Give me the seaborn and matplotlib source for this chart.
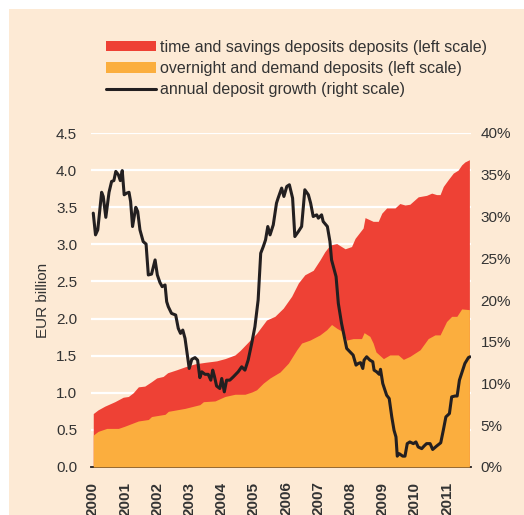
import warnings
warnings.filterwarnings("ignore")

import numpy as np
import pandas as pd
import matplotlib
matplotlib.use("Agg")
import matplotlib.pyplot as plt
from matplotlib.patches import Patch, Rectangle
from matplotlib.lines import Line2D
from matplotlib.ticker import FuncFormatter
import seaborn as sns

# total deposits (top of red area), EUR billion
total_t = [2000.01, 2000.16, 2000.37, 2000.68, 2000.94, 2001.10, 2001.25, 2001.41, 2001.61, 2001.82,
           2001.98, 2002.18, 2002.32, 2002.60, 2002.86, 2003.17, 2003.48, 2003.84, 2004.10, 2004.41,
           2004.57, 2004.88, 2005.08, 2005.39, 2005.65, 2005.91, 2006.17, 2006.38, 2006.58, 2006.84,
           2007.05, 2007.20, 2007.36, 2007.57, 2007.83, 2008.03, 2008.14, 2008.39, 2008.45, 2008.70,
           2008.86, 2008.97, 2009.12, 2009.38, 2009.53, 2009.69, 2009.84, 2010.10, 2010.36, 2010.52,
           2010.67, 2010.78, 2010.88, 2011.03, 2011.19, 2011.34, 2011.45, 2011.55, 2011.69]
total_v = [0.72, 0.77, 0.82, 0.88, 0.94, 0.95, 1.00, 1.08, 1.09, 1.15,
           1.20, 1.22, 1.27, 1.31, 1.35, 1.39, 1.41, 1.43, 1.46, 1.51,
           1.57, 1.71, 1.80, 1.98, 2.03, 2.14, 2.30, 2.48, 2.59, 2.65,
           2.79, 2.90, 2.99, 3.01, 2.94, 2.97, 3.08, 3.22, 3.36, 3.31,
           3.31, 3.42, 3.49, 3.49, 3.55, 3.53, 3.54, 3.64, 3.66, 3.69,
           3.67, 3.67, 3.78, 3.87, 3.96, 4.00, 4.07, 4.11, 4.14]

# overnight and demand deposits (top of orange area), EUR billion
overnight_t = [2000.01, 2000.16, 2000.43, 2000.79, 2000.99, 2001.41, 2001.72, 2001.82, 2002.24, 2002.34,
               2002.86, 2003.32, 2003.43, 2003.79, 2004.10, 2004.41, 2004.72, 2004.93, 2005.08, 2005.29,
               2005.50, 2005.81, 2006.07, 2006.33, 2006.48, 2006.74, 2007.05, 2007.26, 2007.41, 2007.57,
               2007.77, 2007.88, 2008.08, 2008.34, 2008.42, 2008.60, 2008.70, 2008.79, 2009.02, 2009.22,
               2009.48, 2009.64, 2009.84, 2010.16, 2010.41, 2010.62, 2010.78, 2010.98, 2011.14, 2011.30,
               2011.45, 2011.69]
overnight_v = [0.43, 0.48, 0.52, 0.52, 0.55, 0.62, 0.64, 0.68, 0.71, 0.75,
               0.79, 0.84, 0.88, 0.89, 0.95, 0.98, 0.98, 1.01, 1.04, 1.13,
               1.20, 1.28, 1.40, 1.58, 1.67, 1.71, 1.78, 1.85, 1.92, 1.87,
               1.82, 1.71, 1.73, 1.73, 1.81, 1.76, 1.67, 1.55, 1.46, 1.51,
               1.51, 1.45, 1.49, 1.58, 1.73, 1.78, 1.78, 1.96, 2.03, 2.03,
               2.13, 2.12]

# annual deposit growth, %
growth_t = [2000.01, 2000.08, 2000.15, 2000.27, 2000.32, 2000.40, 2000.50, 2000.58, 2000.65, 2000.71,
            2000.79, 2000.85, 2000.91, 2000.97, 2001.05, 2001.12, 2001.17, 2001.23, 2001.33, 2001.39,
            2001.46, 2001.56, 2001.65, 2001.72, 2001.82, 2001.93, 2002.00, 2002.08, 2002.15, 2002.24,
            2002.29, 2002.34, 2002.44, 2002.57, 2002.65, 2002.72, 2002.79, 2002.86, 2002.91, 2002.99,
            2003.07, 2003.17, 2003.25, 2003.32, 2003.38, 2003.48, 2003.58, 2003.66, 2003.72, 2003.77,
            2003.84, 2003.94, 2004.00, 2004.08, 2004.15, 2004.25, 2004.36, 2004.46, 2004.51, 2004.62,
            2004.72, 2004.82, 2004.93, 2005.03, 2005.13, 2005.21, 2005.29, 2005.36, 2005.43, 2005.50,
            2005.60, 2005.70, 2005.75, 2005.86, 2005.93, 2006.02, 2006.10, 2006.20, 2006.27, 2006.38,
            2006.48, 2006.58, 2006.69, 2006.76, 2006.84, 2006.95, 2007.00, 2007.10, 2007.15, 2007.28,
            2007.36, 2007.41, 2007.55, 2007.62, 2007.72, 2007.88, 2007.98, 2008.08, 2008.17, 2008.24,
            2008.31, 2008.38, 2008.42, 2008.50, 2008.60, 2008.69, 2008.73, 2008.81, 2008.89, 2008.93,
            2009.00, 2009.12, 2009.20, 2009.28, 2009.35, 2009.41, 2009.45, 2009.51, 2009.62, 2009.69,
            2009.76, 2009.84, 2009.95, 2010.03, 2010.10, 2010.21, 2010.28, 2010.36, 2010.47, 2010.55,
            2010.67, 2010.80, 2010.88, 2010.96, 2011.07, 2011.14, 2011.24, 2011.31, 2011.38, 2011.48,
            2011.55, 2011.66, 2011.71]
growth_v = [30.4, 27.8, 28.4, 32.9, 32.4, 29.9, 32.9, 34.2, 34.3, 35.4,
            35.0, 34.3, 35.5, 32.6, 32.8, 32.9, 31.8, 28.8, 31.1, 30.6,
            28.4, 27.0, 26.7, 23.0, 23.1, 24.8, 23.0, 22.1, 21.6, 21.8,
            19.8, 19.2, 18.4, 18.2, 16.6, 16.0, 16.4, 15.4, 14.0, 11.8,
            12.9, 13.1, 12.8, 10.7, 11.4, 11.1, 11.1, 10.4, 11.6, 10.9,
            9.7, 9.4, 10.6, 9.0, 10.4, 10.4, 10.8, 11.2, 11.4, 12.0,
            11.6, 12.8, 14.8, 16.8, 20.0, 25.6, 26.4, 27.2, 28.8, 27.8,
            29.0, 31.6, 32.2, 33.4, 32.4, 33.6, 33.8, 32.2, 27.6, 28.2,
            28.8, 33.2, 32.6, 31.6, 30.0, 30.2, 29.8, 30.2, 29.4, 28.8,
            27.0, 24.8, 22.8, 19.6, 17.2, 14.2, 13.8, 13.4, 12.2, 12.4,
            12.5, 11.8, 12.8, 13.2, 12.8, 12.6, 11.6, 11.4, 11.1, 11.7,
            10.0, 8.6, 8.2, 6.0, 4.4, 3.6, 1.3, 1.6, 1.3, 1.3,
            2.8, 3.0, 2.8, 3.0, 2.4, 2.2, 2.5, 2.8, 2.8, 2.1,
            2.5, 2.9, 4.4, 6.0, 6.4, 8.4, 8.5, 8.5, 10.4, 11.6,
            12.4, 13.1, 13.2]

years = list(range(2000, 2012))
left_ticks = [0.0, 0.5, 1.0, 1.5, 2.0, 2.5, 3.0, 3.5, 4.0, 4.5]
right_ticks = [0, 5, 10, 15, 20, 25, 30, 35, 40]

labels = ["time and savings deposits deposits (left scale)",
          "overnight and demand deposits (left scale)",
          "annual deposit growth (right scale)"]

BG = "#FDEAD5"
RED = "#EE4135"
ORANGE = "#FBAE3E"
DARK = "#231F20"
TXT = "#333333"

sns.set_style("white")
plt.rcParams["font.family"] = ["Liberation Sans", "DejaVu Sans"]

fig = plt.figure(figsize=(5.24, 5.15), dpi=100)
fig.patch.set_facecolor("white")
fig.patches.append(Rectangle((9 / 524, 0), 1, 1 - 9 / 515, transform=fig.transFigure,
                             facecolor=BG, edgecolor="none", zorder=-10))

ax = fig.add_axes([91 / 524, 48 / 515, 380 / 524, 334 / 515])
ax.patch.set_alpha(0)

total = pd.DataFrame({"t": total_t, "v": total_v})
overnight = pd.DataFrame({"t": overnight_t, "v": overnight_v})
growth = pd.DataFrame({"t": growth_t, "v": growth_v})

ax.fill_between(total["t"], 0, total["v"], color=RED, linewidth=0, zorder=2)
ax.fill_between(overnight["t"], 0, overnight["v"], color=ORANGE, linewidth=0, zorder=3)

ax.set_xlim(1999.94, 2011.74)
ax.set_ylim(0, 4.5)
ax.set_yticks(left_ticks)
ax.set_yticklabels([f"{v:.1f}" for v in left_ticks])
ax.set_xticks(years)
ax.set_xticklabels([str(y) for y in years], rotation=90, fontweight="bold")
ax.grid(axis="y", color="white", linewidth=1.6, zorder=0)
ax.set_axisbelow(True)
for s in ["left", "right", "top"]:
    ax.spines[s].set_visible(False)
ax.spines["bottom"].set_color(DARK)
ax.spines["bottom"].set_linewidth(1.3)
ax.tick_params(axis="y", length=0, pad=10, labelsize=11, labelcolor=TXT)
ax.tick_params(axis="x", length=0, pad=10.5, labelsize=11, labelcolor=TXT)
ax.set_ylabel("EUR billion", fontsize=11, color=TXT, labelpad=4)

ax2 = ax.twinx()
sns.lineplot(data=growth, x="t", y="v", ax=ax2, color=DARK, linewidth=2.2, zorder=5)
ax2.set_ylim(0, 40)
ax2.set_yticks(right_ticks)
ax2.yaxis.set_major_formatter(FuncFormatter(lambda v, p: f"{v:.0f}%"))
ax2.set_xlabel("")
ax2.set_ylabel("")
ax2.tick_params(axis="y", length=0, pad=7, labelsize=11, labelcolor=TXT)
for s in ["left", "right", "top", "bottom"]:
    ax2.spines[s].set_visible(False)
ax2.grid(False)

handles = [Patch(facecolor=RED, edgecolor="none"),
           Patch(facecolor=ORANGE, edgecolor="none"),
           Line2D([], [], color=DARK, linewidth=2.2)]
fig.legend(handles, labels, loc="upper left", bbox_to_anchor=(106 / 524, 1 - 40 / 515),
           frameon=False, fontsize=11.5, handlelength=3.1, handleheight=0.6,
           handletextpad=0.3, labelspacing=0.38, borderpad=0, borderaxespad=0,
           labelcolor=TXT)

fig.savefig("out.png", dpi=100)
